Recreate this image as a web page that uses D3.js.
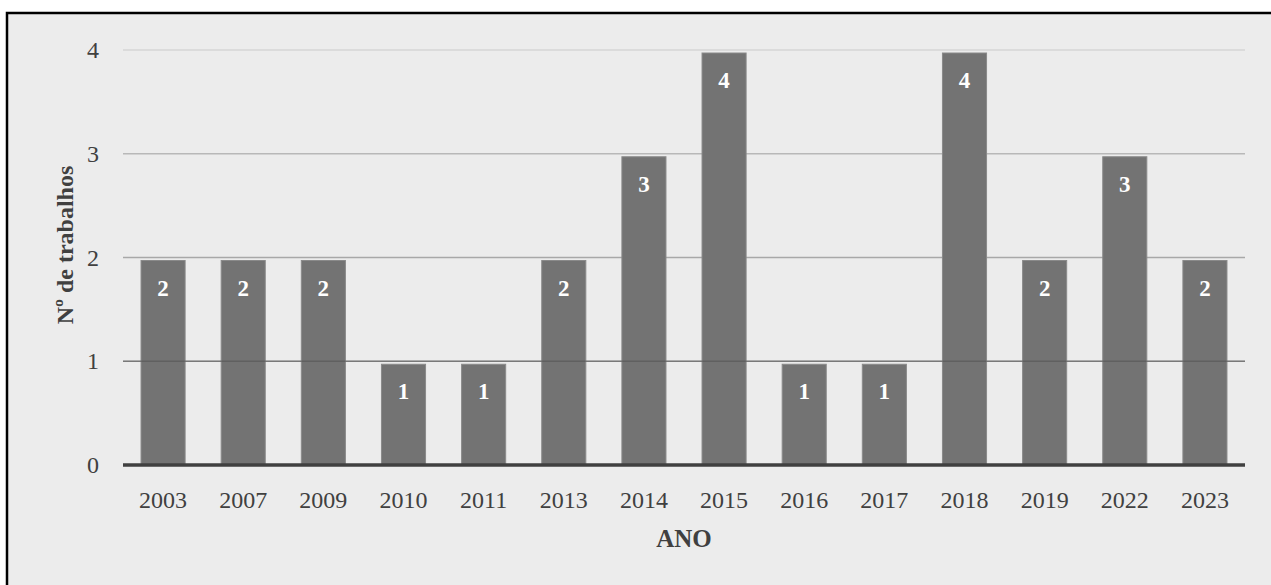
<!DOCTYPE html>
<html>
<head>
<meta charset="utf-8">
<script src="https://cdn.jsdelivr.net/npm/d3@7"></script>
<style>
  body { margin: 0; background: #fff; }
  text { font-family: "Liberation Serif", "Times New Roman", serif; }
</style>
</head>
<body>
<div id="chart"></div>
<script>
// data
var anos = ["2003", "2007", "2009", "2010", "2011", "2013", "2014", "2015", "2016", "2017", "2018", "2019", "2022", "2023"];
var trabalhos = [2, 2, 2, 1, 1, 2, 3, 4, 1, 1, 4, 2, 3, 2];
var yTicks = [0, 1, 2, 3, 4];

var W = 1271, H = 585;
var margin = {top: 50, right: 26, bottom: 120, left: 123};
var width = W - margin.left - margin.right,
    height = H - margin.top - margin.bottom;

var svg = d3.select("#chart").append("svg")
    .attr("width", W)
    .attr("height", H);

// panel background + frame (only left/top visible in the picture)
svg.append("rect")
    .attr("x", 7).attr("y", 13)
    .attr("width", W + 20).attr("height", H + 20)
    .attr("fill", "#ececec")
    .attr("stroke", "#000")
    .attr("stroke-width", 2.5);

var g = svg.append("g")
    .attr("transform", "translate(" + margin.left + "," + margin.top + ")");

var x = d3.scaleBand()
    .domain(anos)
    .range([0, width])
    .paddingInner(0.45)
    .paddingOuter(0.225);

var y = d3.scaleLinear()
    .domain([0, 4])
    .range([height, 0]);

// gridlines
var gridColor = {1: "#9a9a9a", 2: "#a8a8a8", 3: "#b8b8b8", 4: "#d6d6d6"};
g.selectAll(".grid")
    .data(yTicks.filter(function(d) { return d > 0; }))
    .enter().append("line")
    .attr("class", "grid")
    .attr("x1", 0).attr("x2", width)
    .attr("y1", function(d) { return y(d); })
    .attr("y2", function(d) { return y(d); })
    .attr("stroke", function(d) { return gridColor[d]; })
    .attr("stroke-width", 1.5);

// bars
g.selectAll(".bar")
    .data(anos)
    .enter().append("rect")
    .attr("class", "bar")
    .attr("x", function(d) { return x(d); })
    .attr("width", x.bandwidth())
    .attr("y", function(d, i) { return y(trabalhos[i]) + 3; })
    .attr("height", function(d, i) { return height - y(trabalhos[i]) - 3; })
    .attr("fill", "#737373")
    .attr("stroke", "#8a8a8a")
    .attr("stroke-width", 1);

// gridline at 1 shows over the bars
g.append("line")
    .attr("x1", 0).attr("x2", width)
    .attr("y1", y(1)).attr("y2", y(1))
    .attr("stroke", "rgba(60,60,60,0.35)")
    .attr("stroke-width", 1.5);

// value labels
g.selectAll(".lbl")
    .data(anos)
    .enter().append("text")
    .attr("class", "lbl")
    .attr("x", function(d) { return x(d) + x.bandwidth() / 2; })
    .attr("y", function(d, i) { return y(trabalhos[i]) + 38; })
    .attr("text-anchor", "middle")
    .attr("fill", "#fff")
    .attr("font-weight", "bold")
    .attr("font-size", "23px")
    .text(function(d, i) { return trabalhos[i]; });

// baseline
g.append("line")
    .attr("x1", 0).attr("x2", width)
    .attr("y1", y(0)).attr("y2", y(0))
    .attr("stroke", "#404040")
    .attr("stroke-width", 3.5);

// y tick labels
var yAxis = g.append("g")
    .call(d3.axisLeft(y).tickValues(yTicks).tickSize(0).tickPadding(24).tickFormat(d3.format("d")));
yAxis.select(".domain").remove();
yAxis.selectAll("text")
    .attr("font-family", "Liberation Serif")
    .attr("font-size", "24px")
    .attr("fill", "#404040");

// x tick labels
var xAxis = g.append("g")
    .attr("transform", "translate(0," + height + ")")
    .call(d3.axisBottom(x).tickSize(0).tickPadding(26));
xAxis.select(".domain").remove();
xAxis.selectAll("text")
    .attr("font-family", "Liberation Serif")
    .attr("font-size", "24px")
    .attr("fill", "#404040");

// axis titles
svg.append("text")
    .attr("x", margin.left + width / 2)
    .attr("y", 547)
    .attr("text-anchor", "middle")
    .attr("font-weight", "bold")
    .attr("font-size", "25px")
    .attr("fill", "#404040")
    .text("ANO");

svg.append("text")
    .attr("transform", "translate(73,245) rotate(-90)")
    .attr("text-anchor", "middle")
    .attr("font-weight", "bold")
    .attr("font-size", "24px")
    .attr("fill", "#404040")
    .text("Nº de trabalhos");
</script>
</body>
</html>
